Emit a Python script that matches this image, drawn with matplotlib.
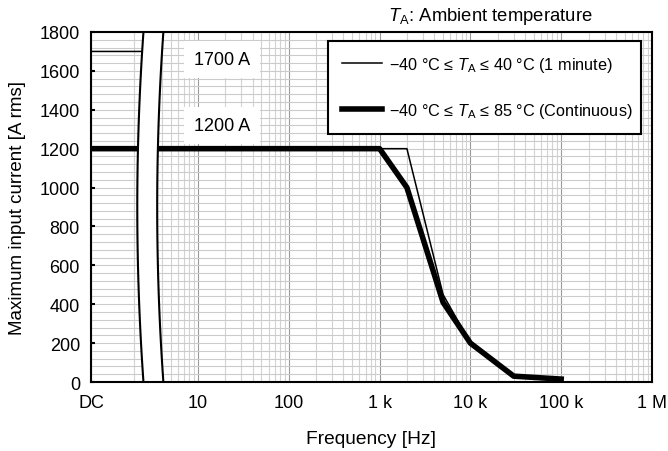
import numpy as np
import matplotlib
matplotlib.use("Agg")
import matplotlib.pyplot as plt
from matplotlib.ticker import FixedLocator, NullFormatter
from matplotlib.patches import Polygon

plt.rcParams['font.family'] = ['Liberation Sans', 'DejaVu Sans']
plt.rcParams['mathtext.fontset'] = 'custom'
plt.rcParams['mathtext.rm'] = 'Liberation Sans'
plt.rcParams['mathtext.it'] = 'Liberation Sans:italic'

# posizione "DC" sull'asse logaritmico (limite sinistro)
dc_pos = 0.664

# curva 1 minuto (-40..40 °C)
freq_1min = [dc_pos, 3, 3, 2000, 5000, 10000, 30000, 100000]
corr_1min = [1700, 1700, 1200, 1200, 450, 200, 30, 15]

# curva continua (-40..85 °C)
freq_cont = [dc_pos, 1000, 2000, 5000, 10000, 30000, 100000]
corr_cont = [1200, 1200, 1000, 410, 200, 30, 15]

xtick_pos = [dc_pos, 10, 100, 1e3, 1e4, 1e5, 1e6]
xtick_lab = ['DC', '10', '100', '1 k', '10 k', '100 k', '1 M']
yticks = list(range(0, 1801, 200))

label_1min = '\u221240 \u00b0C \u2264 $T_\\mathrm{A}$ \u2264 40 \u00b0C (1 minute)'
label_cont = '\u221240 \u00b0C \u2264 $T_\\mathrm{A}$ \u2264 85 \u00b0C (Continuous)'

fig = plt.figure(figsize=(6.68, 4.52), dpi=100)
ax = fig.add_axes([91/668, 1 - 383/452, 561/668, 350/452])

ax.set_xscale('log')
ax.set_xlim(dc_pos, 1e6)
ax.set_ylim(0, 1800)

# griglia
ax.set_axisbelow(True)
minori_x = [k * 10**d for d in range(0, 6) for k in range(2, 10)]
ax.xaxis.set_major_locator(FixedLocator(xtick_pos))
ax.xaxis.set_minor_locator(FixedLocator(minori_x))
ax.xaxis.set_minor_formatter(NullFormatter())
ax.set_xticklabels(xtick_lab)
ax.set_yticks(yticks)
ax.yaxis.set_minor_locator(FixedLocator(list(range(0, 1801, 40))))
ax.grid(which='major', axis='x', color='#9a9a9a', linewidth=0.8)
ax.grid(which='minor', axis='x', color='#d2d2d2', linewidth=0.8)
ax.grid(which='both', axis='y', color='#cbcbcb', linewidth=0.8)

ax.tick_params(axis='x', which='both', length=0, pad=9, labelsize=13)
ax.tick_params(axis='y', which='major', direction='in', length=3, width=1.5, pad=8, labelsize=13)
ax.tick_params(axis='y', which='minor', length=0)

for s in ax.spines.values():
    s.set_linewidth(1.5)
    s.set_zorder(3)

ax.plot(freq_1min, corr_1min, color='black', linewidth=1.1, label=label_1min, zorder=2)
ax.plot(freq_cont, corr_cont, color='black', linewidth=4, label=label_cont, zorder=2.1)

# simbolo di interruzione dell'asse
t = np.linspace(0, 1, 60)
bordo_sx = 0.0935 - 0.011 * 4 * t * (1 - t)
bordo_dx = 0.129 - 0.011 * 4 * t * (1 - t)
pts = np.concatenate([np.column_stack([bordo_sx, t]), np.column_stack([bordo_dx[::-1], t[::-1]])])
ax.add_patch(Polygon(pts, closed=True, transform=ax.transAxes, facecolor='white',
                     edgecolor='none', zorder=2.5))
ax.plot(bordo_sx, t, transform=ax.transAxes, color='black', linewidth=1.5, zorder=2.6)
ax.plot(bordo_dx, t, transform=ax.transAxes, color='black', linewidth=1.5, zorder=2.6)

box = dict(boxstyle='square,pad=0.55', facecolor='white', edgecolor='none')
ax.text(18.4, 1660, '1700 A', ha='center', va='center', fontsize=13, bbox=box, zorder=4)
ax.text(18.4, 1317, '1200 A', ha='center', va='center', fontsize=13, bbox=box, zorder=4)

leg = ax.legend(loc='upper left', bbox_to_anchor=(0.4225, 0.714, 0.5575, 0.26), mode='expand',
                borderaxespad=0, fontsize=11.7, handlelength=2.5, handletextpad=0.4,
                labelspacing=1.65, borderpad=0.85,
                fancybox=False, framealpha=1, edgecolor='black')
leg.get_frame().set_linewidth(1.5)
leg.set_zorder(5)

ax.text(0.895, 1.017, '$T_\\mathrm{A}$: Ambient temperature', transform=ax.transAxes,
        ha='right', va='bottom', fontsize=13.3)

ax.set_xlabel('Frequency [Hz]', fontsize=13.8, labelpad=13)
ax.set_ylabel('Maximum input current [A rms]', fontsize=13.5, labelpad=9.5)

fig.savefig('out.png', dpi=100)
